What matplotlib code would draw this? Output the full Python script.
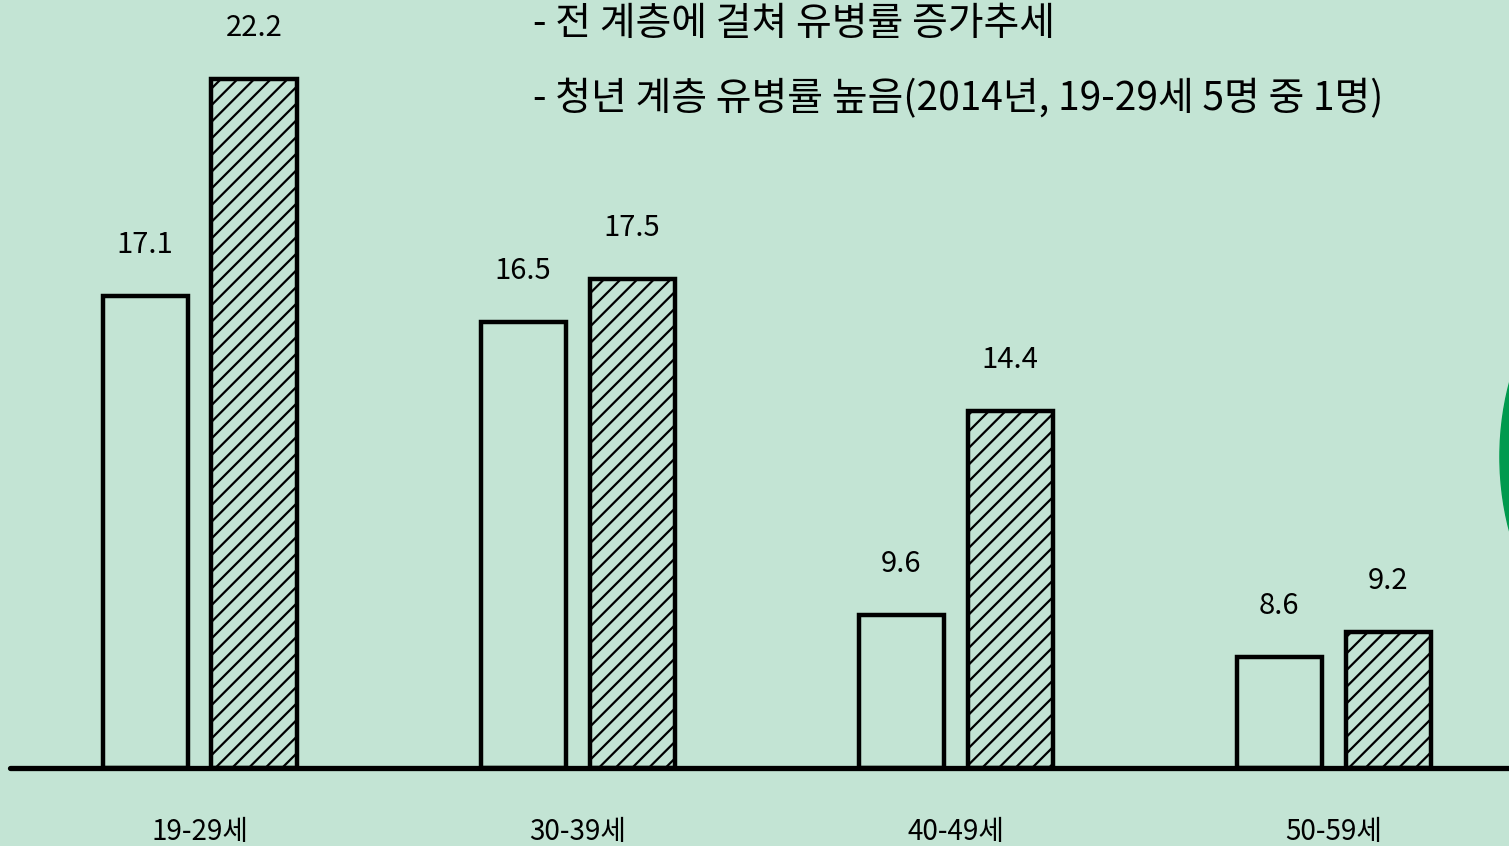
import matplotlib
matplotlib.use('Agg')
import matplotlib.pyplot as plt
import numpy as np
from matplotlib.patches import Ellipse

plt.rcParams['font.family'] = ['Noto Sans CJK KR', 'DejaVu Sans']
plt.rcParams['hatch.linewidth'] = 1.6

# data
groups = ['19-29세', '30-39세', '40-49세', '50-59세']
series_a = [17.1, 16.5, 9.6, 8.6]    # plain bars
series_b = [22.2, 17.5, 14.4, 9.2]   # hatched bars
notes = ['- 전 계층에 걸쳐 유병률 증가추세',
         '- 청년 계층 유병률 높음(2014년, 19-29세 5명 중 1명)']
base = 6.0  # value axis starts here

bg = '#c3e4d4'
fig = plt.figure(figsize=(15.09, 8.46), dpi=100, facecolor=bg)
ax = fig.add_axes([0, 0, 1, 1])
ax.set_facecolor(bg)

x = np.arange(len(groups))
w = 0.225
off = 0.144
ax.bar(x - off, np.array(series_a) - base, w, bottom=base, color=bg,
       edgecolor='black', linewidth=3.2, zorder=2)
ax.bar(x + off, np.array(series_b) - base, w, bottom=base, color=bg,
       edgecolor='black', linewidth=3.2, hatch='//', zorder=2)

for xi, v in zip(x - off, series_a):
    ax.text(xi, v + 1.2, f'{v}', ha='center', va='center', fontsize=21)
for xi, v in zip(x + off, series_b):
    ax.text(xi, v + 1.2, f'{v}', ha='center', va='center', fontsize=21)

# baseline
ax.plot([-0.502, 3.5], [base, base], color='black', linewidth=3.8, zorder=3,
        solid_capstyle='round')

for xi, g in zip(x, groups):
    ax.text(xi, 4.5, g, ha='center', va='center', fontsize=20)

ax.text(0.353, 0.972, notes[0], transform=ax.transAxes, ha='left',
        va='center', fontsize=28)
ax.text(0.353, 0.883, notes[1], transform=ax.transAxes, ha='left',
        va='center', fontsize=28)

# green decoration at right edge
ax.add_patch(Ellipse((1.1, 0.46), 0.212, 0.515, transform=ax.transAxes,
                     color='#009a4e', zorder=1))

ax.set_xlim(-0.528, 3.464)
ax.set_ylim(4.16, 24.07)
ax.axis('off')

fig.savefig('out.png', dpi=100, facecolor=bg)
